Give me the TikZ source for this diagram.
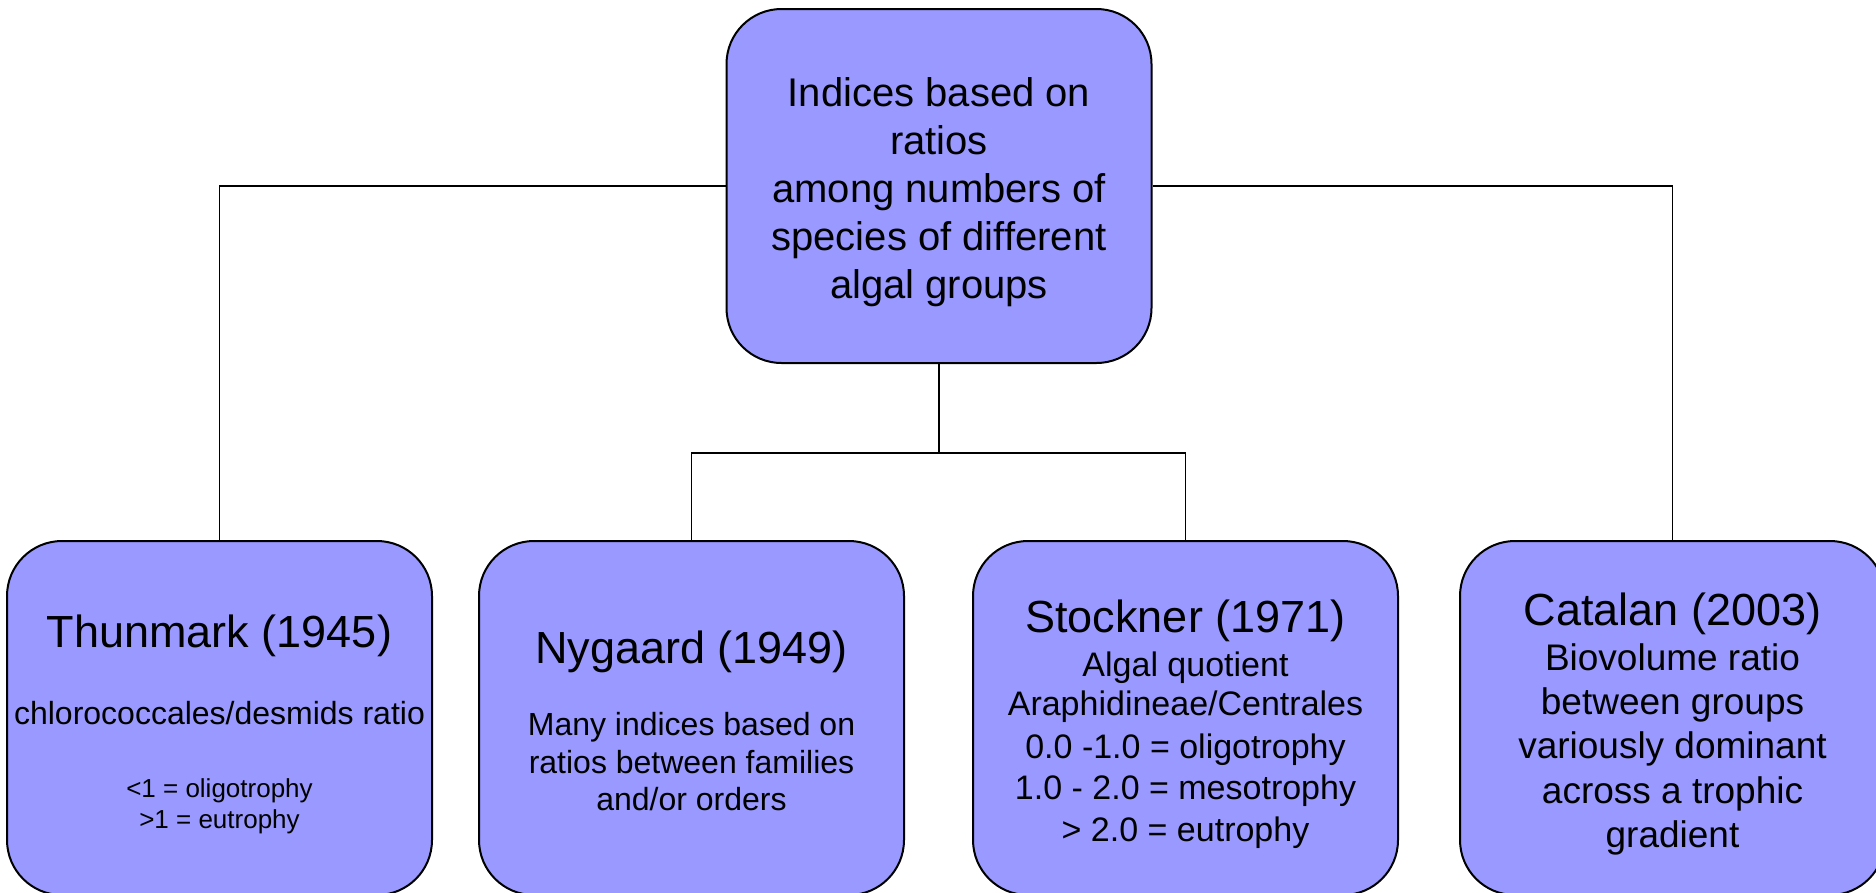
\documentclass[tikz,border=0pt]{standalone}
\usepackage{fontspec}
\setmainfont{Liberation Sans}
\definecolor{boxblue}{RGB}{153,153,255}
\begin{document}
\begin{tikzpicture}[x=1pt,y=-1pt,
  box/.style={draw=black, line width=2pt, fill=boxblue, rounded corners=55pt,
    minimum width=425pt, minimum height=354pt, inner sep=0pt},
  conn/.style={draw=black, line width=1.6pt},
  ttl/.style={anchor=base, inner sep=0pt, font=\fontsize{45}{54}\selectfont},
  lbl/.style={anchor=base, inner sep=0pt}]
\useasboundingbox (0,0) rectangle (1876,892);
\clip (0,0) rectangle (1876,892);
% boxes
\node[box] (top) at (939,186) {};
\node[box] (th) at (219.5,718) {};
\node[box] (ny) at (691.5,718) {};
\node[box] (st) at (1185.5,718) {};
\node[box] (ca) at (1672.5,718) {};
% connectors
\coordinate (j) at (939,453);
\draw[conn] (top.west) -| (th.north);
\draw[conn] (top.east) -| (ca.north);
\draw[conn] (top.south) -- (j);
\draw[conn] (ny.north) |- (j) -| (st.north);
% top text
\foreach \t/\yy [count=\i] in {{Indices based on}/106, {ratios\ }/154, {among numbers of}/202, {species of different}/250, {algal groups}/298}
  \node[lbl, font=\fontsize{40}{48}\selectfont] (top\i) at (939,\yy) {\t};
% Thunmark
\node[ttl] (th1) at (219.5,647) {Thunmark (1945)};
\node[lbl, font=\fontsize{32}{38}\selectfont] (th2) at (219.5,724) {chlorococcales/desmids ratio};
\node[lbl, font=\fontsize{26}{31}\selectfont] (th3) at (219.5,797) {<1 = oligotrophy};
\node[lbl, font=\fontsize{26}{31}\selectfont] (th4) at (219.5,828) {>1 = eutrophy};
% Nygaard
\node[ttl] (ny1) at (691.5,663) {Nygaard (1949)};
\foreach \t/\yy [count=\i from 2] in {{Many indices based on}/735, {ratios between families}/773, {and/or orders\ }/810}
  \node[lbl, font=\fontsize{32}{38}\selectfont] (ny\i) at (691.5,\yy) {\t};
% Stockner
\node[ttl] (st1) at (1185.5,632) {Stockner (1971)};
\foreach \t/\yy [count=\i from 2] in {{Algal quotient}/676, {Araphidineae/Centrales}/715, {0.0 -1.0 = oligotrophy}/758, {1.0 - 2.0 = mesotrophy}/799, {> 2.0 = eutrophy}/841}
  \node[lbl, font=\fontsize{34}{41}\selectfont] (st\i) at (1185.5,\yy) {\t};
% Catalan
\node[ttl] (ca1) at (1672.5,625) {Catalan (2003)};
\foreach \t/\yy [count=\i from 2] in {{Biovolume ratio}/670, {between groups}/714, {variously dominant}/758, {across a trophic}/803, {gradient}/847}
  \node[lbl, font=\fontsize{37}{44}\selectfont] (ca\i) at (1672.5,\yy) {\t};
\end{tikzpicture}
\end{document}
